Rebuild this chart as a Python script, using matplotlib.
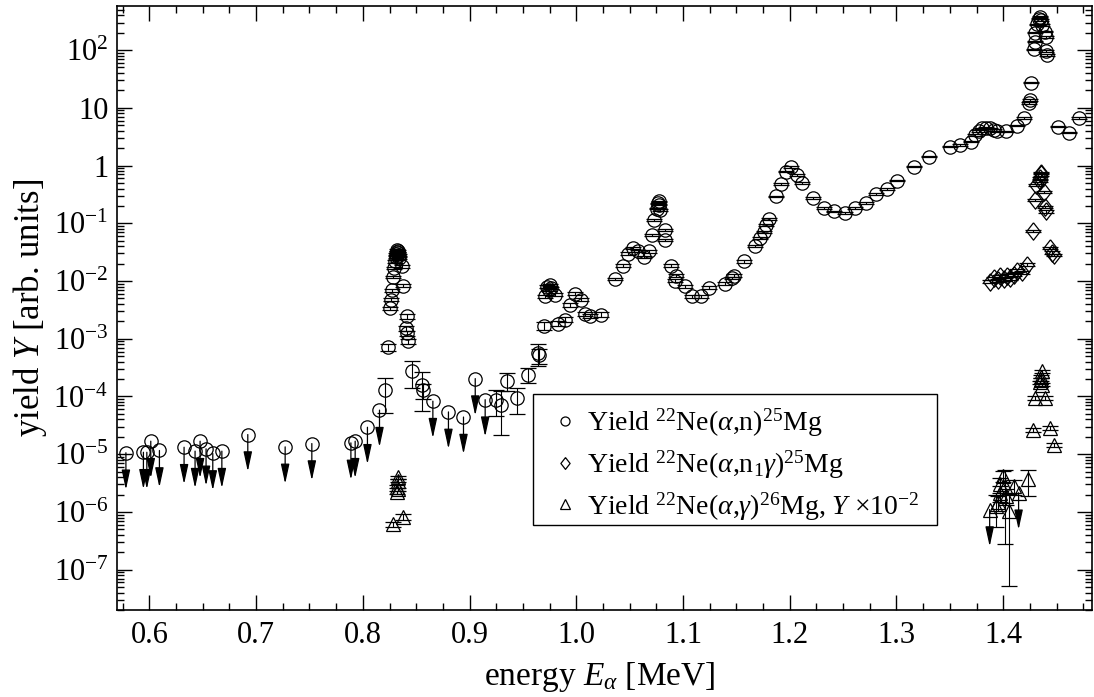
import matplotlib
matplotlib.use("Agg")
import matplotlib.pyplot as plt
from matplotlib.lines import Line2D
from matplotlib.patches import Rectangle
from matplotlib.ticker import FixedLocator, FuncFormatter, LogLocator, NullFormatter, MultipleLocator
import numpy as np

# ---------------- data ----------------
# 22Ne(a,n)25Mg : measured points (energy MeV, yield, relative error)
an_E = [0.8209, 0.8240, 0.8256, 0.8265, 0.8272, 0.8278, 0.8290, 0.8300, 0.8308, 0.8314,
        0.8318, 0.8322, 0.8326, 0.8330, 0.8335, 0.8340, 0.8365, 0.8375, 0.8405, 0.8410,
        0.8412, 0.8420, 0.8459, 0.8553, 0.8560, 0.9250, 0.9293, 0.9350, 0.9449, 0.9552,
        0.9640, 0.9650, 0.9693, 0.9709, 0.9730, 0.9740, 0.9750, 0.9760, 0.9800, 0.9833,
        0.9896, 0.9943, 0.9990, 1.0043, 1.0083, 1.0130, 1.0233, 1.0365, 1.0433, 1.0480,
        1.0530, 1.0574, 1.0630, 1.0677, 1.0708, 1.0730, 1.0755, 1.0765, 1.0772, 1.0778,
        1.0785, 1.0827, 1.0833, 1.0886, 1.0926, 1.0936, 1.1014, 1.1083, 1.1168, 1.1239,
        1.1389, 1.1458, 1.1473, 1.1573, 1.1677, 1.1723, 1.1754, 1.1780, 1.1801, 1.1871,
        1.1917, 1.1967, 1.2011, 1.2067, 1.2114, 1.2217, 1.2317, 1.2411, 1.2514, 1.2614,
        1.2717, 1.2811, 1.2911, 1.3005, 1.3160, 1.3305, 1.3504, 1.3598, 1.3700, 1.3738,
        1.3770, 1.3800, 1.3840, 1.3875, 1.3912, 1.3943, 1.4029, 1.4129, 1.4191, 1.4238,
        1.4247, 1.4263, 1.4285, 1.4294, 1.4300, 1.4320, 1.4335, 1.4345, 1.4355, 1.4365,
        1.4394, 1.4400, 1.4405, 1.4410, 1.4514, 1.4613, 1.4707]
an_Y = [1.3e-4, 7.1e-4, 3.4e-3, 4.7e-3, 6.9e-3, 0.0117, 0.0168, 0.022, 0.026, 0.029,
        0.032, 0.034, 0.031, 0.033, 0.028, 0.025, 0.0179, 8.3e-3, 1.54e-3, 1.26e-3,
        2.44e-3, 9.0e-4, 2.73e-4, 1.6e-4, 1.28e-4, 8.8e-5, 7.2e-5, 1.88e-4, 9.5e-5, 2.4e-4,
        5.7e-4, 5.2e-4, 1.69e-3, 5.4e-3, 8.0e-3, 7.1e-3, 8.5e-3, 7.5e-3, 5.8e-3, 1.82e-3,
        2.14e-3, 3.9e-3, 6.0e-3, 4.7e-3, 2.72e-3, 2.44e-3, 2.6e-3, 0.0108, 0.0184, 0.0297,
        0.0372, 0.0334, 0.026, 0.0325, 0.063, 0.115, 0.18, 0.22, 0.24, 0.21,
        0.17, 0.077, 0.052, 0.0184, 0.0102, 0.0124, 8.1e-3, 5.4e-3, 5.4e-3, 7.6e-3,
        8.9e-3, 0.0113, 0.0124, 0.0218, 0.0397, 0.0555, 0.072, 0.094, 0.118, 0.291,
        0.482, 0.788, 0.94, 0.69, 0.50, 0.273, 0.183, 0.16, 0.15, 0.183,
        0.224, 0.324, 0.391, 0.55, 0.96, 1.43, 2.13, 2.28, 2.6, 3.4,
        4.0, 4.4, 4.5, 4.4, 4.1, 3.9, 3.9, 4.9, 6.6, 12.0,
        13.7, 27.3, 103.0, 140.0, 200.0, 280.0, 350.0, 380.0, 330.0, 270.0,
        208.0, 167.0, 96.0, 82.0, 4.7, 3.7, 6.6]
an_err = [0.6, 0.12, 0.06, 0.06, 0.06, 0.05, 0.05, 0.05, 0.04, 0.04,
          0.04, 0.04, 0.04, 0.04, 0.04, 0.04, 0.05, 0.06, 0.1, 0.1,
          0.1, 0.1, 0.48, 0.65, 0.3, 0.48, 0.7, 0.35, 0.48, 0.28,
          0.4, 0.3, 0.15, 0.06, 0.05, 0.05, 0.05, 0.05, 0.06, 0.1,
          0.1, 0.08, 0.06, 0.06, 0.08, 0.08, 0.1, 0.05, 0.05, 0.05,
          0.05, 0.05, 0.05, 0.05, 0.04, 0.04, 0.03, 0.03, 0.03, 0.03,
          0.03, 0.04, 0.04, 0.05, 0.05, 0.05, 0.06, 0.06, 0.06, 0.06,
          0.06, 0.05, 0.05, 0.05, 0.04, 0.04, 0.04, 0.04, 0.04, 0.03,
          0.03, 0.03, 0.03, 0.03, 0.03, 0.03, 0.03, 0.03, 0.03, 0.03,
          0.03, 0.03, 0.03, 0.03, 0.03, 0.03, 0.03, 0.03, 0.03, 0.03,
          0.03, 0.03, 0.03, 0.03, 0.03, 0.03, 0.03, 0.03, 0.03, 0.03,
          0.03, 0.03, 0.03, 0.03, 0.03, 0.03, 0.03, 0.03, 0.03, 0.03,
          0.03, 0.03, 0.03, 0.03, 0.03, 0.03, 0.03]

# 22Ne(a,n)25Mg : upper limits
an_ul_E = [0.578, 0.5944, 0.5976, 0.6013, 0.6094, 0.6325, 0.6428, 0.6475, 0.6531, 0.6594,
           0.6679, 0.6922, 0.7272, 0.7522, 0.7888, 0.7928, 0.8043, 0.8156, 0.8656, 0.8802,
           0.8943, 0.9053, 0.9146]
an_ul_Y = [1.06e-5, 1.08e-5, 1.08e-5, 1.68e-5, 1.16e-5, 1.32e-5, 1.13e-5, 1.68e-5, 1.24e-5, 1.03e-5,
           1.13e-5, 2.19e-5, 1.34e-5, 1.53e-5, 1.57e-5, 1.68e-5, 2.93e-5, 5.8e-5, 8.3e-5, 5.4e-5,
           4.4e-5, 2.04e-4, 8.8e-5]

# 22Ne(a,n1 gamma)25Mg
ang_E = [1.3873, 1.3912, 1.3950, 1.3973, 1.4004, 1.4036, 1.4067, 1.4105, 1.4129, 1.4175,
         1.4222, 1.4279, 1.4294, 1.4310, 1.4340, 1.4345, 1.4350, 1.4355, 1.4379, 1.4394,
         1.4400, 1.4441, 1.4460, 1.4479]
ang_Y = [0.0098, 0.0112, 0.0103, 0.012, 0.0108, 0.0124, 0.0112, 0.0128, 0.0152, 0.0141,
         0.0191, 0.074, 0.255, 0.46, 0.53, 0.62, 0.70, 0.75, 0.355, 0.195,
         0.16, 0.037, 0.031, 0.0285]
ang_err = [0.06, 0.06, 0.06, 0.06, 0.06, 0.06, 0.06, 0.06, 0.06, 0.06,
           0.06, 0.05, 0.04, 0.04, 0.04, 0.04, 0.04, 0.04, 0.04, 0.04,
           0.04, 0.05, 0.05, 0.05]

# 22Ne(a,gamma)26Mg, scaled by 1e-2
ag_E = [0.8278, 0.8318, 0.8322, 0.8326, 0.8330, 0.8334, 0.8380,
        1.3928, 1.3950, 1.3967, 1.3973, 1.3998, 1.4020, 1.4030, 1.4050, 1.4097, 1.4229,
        1.4279, 1.4300, 1.4345, 1.4350, 1.4355, 1.4360, 1.4365, 1.4394, 1.4441, 1.4479]
ag_Y = [6.1e-7, 2.2e-6, 2.75e-6, 3.95e-6, 3.5e-6, 2.45e-6, 8.1e-7,
        1.26e-6, 1.47e-6, 2.15e-6, 3.0e-6, 4.2e-6, 2.8e-6, 1.9e-6, 1.03e-6, 2.8e-6, 3.65e-6,
        2.67e-5, 9.5e-5, 1.75e-4, 1.96e-4, 2.2e-4, 1.6e-4, 2.73e-4, 9.5e-5, 2.86e-5, 1.47e-5]
ag_err = [0.1, 0.06, 0.06, 0.06, 0.06, 0.06, 0.12,
          0.56, 0.3, 0.3, 0.3, 0.2, 0.9, 0.3, 0.95, 0.3, 0.48,
          0.08, 0.08, 0.06, 0.06, 0.06, 0.06, 0.06, 0.08, 0.08, 0.08]
ag_ul_E = [1.3873, 1.4144]
ag_ul_Y = [1.1e-6, 2.15e-6]

legend_labels = [r"Yield $^{22}$Ne($\alpha$,n)$^{25}$Mg",
                 r"Yield $^{22}$Ne($\alpha$,n$_1\gamma$)$^{25}$Mg",
                 r"Yield $^{22}$Ne($\alpha$,$\gamma$)$^{26}$Mg, $Y$ ×10$^{-2}$"]

# ---------------- style ----------------
plt.rcParams["font.family"] = ["Liberation Serif", "DejaVu Serif"]
plt.rcParams["mathtext.fontset"] = "custom"
plt.rcParams["mathtext.rm"] = "Liberation Serif"
plt.rcParams["mathtext.it"] = "Liberation Serif:italic"
plt.rcParams["mathtext.bf"] = "Liberation Serif:bold"
plt.rcParams["mathtext.fallback"] = "stix"

fig = plt.figure(figsize=(10.94, 6.97), dpi=100)
ax = fig.add_axes([0.1067, 0.1248, 0.8912, 0.8666])

ms_c = 9.6
ms_t = 9.6
ekw = dict(ecolor="black", elinewidth=0.8, capsize=5.5, capthick=0.9, linestyle="none")


def draw_series(E, Y, err, marker, ms):
    E = np.asarray(E)
    Y = np.asarray(Y)
    dY = np.asarray(err) * Y
    ax.errorbar(E, Y, yerr=dY, marker=marker, ms=ms, mfc="none", mec="black",
                mew=0.9, **ekw)


def draw_limits(E, Y, marker, ms):
    ax.plot(E, Y, linestyle="none", marker=marker, ms=ms, mfc="none", mec="black", mew=0.9)
    for e, y in zip(E, Y):
        ax.annotate("", xy=(e, y * 10 ** -0.64), xytext=(e, y),
                    arrowprops=dict(arrowstyle="-|>,head_length=1.2,head_width=0.26",
                                    color="black", lw=0.9, shrinkA=0, shrinkB=0,
                                    mutation_scale=10))


diamond = [(0, 1), (0.78, 0), (0, -1), (-0.78, 0), (0, 1)]

draw_series(an_E, an_Y, an_err, "o", ms_c)
draw_limits(an_ul_E, an_ul_Y, "o", ms_c)
draw_series(ang_E, ang_Y, ang_err, diamond, 12.5)
draw_series(ag_E, ag_Y, ag_err, "^", ms_t)
draw_limits(ag_ul_E, ag_ul_Y, "^", ms_t)

ax.set_yscale("log")
ax.set_xlim(0.5694, 1.4829)
ax.set_ylim(2.0e-8, 580)

ax.xaxis.set_major_locator(MultipleLocator(0.1))
ax.xaxis.set_minor_locator(MultipleLocator(0.025))
ax.xaxis.set_major_formatter(FuncFormatter(lambda v, p: f"{v:.1f}"))

decades = [10.0 ** k for k in range(-7, 3)]
ax.yaxis.set_major_locator(FixedLocator(decades))


def yfmt(v, p):
    k = int(round(np.log10(v)))
    if k == 0:
        return "1"
    if k == 1:
        return "10"
    return r"10$^{%d}$" % k


ax.yaxis.set_major_formatter(FuncFormatter(yfmt))
ax.yaxis.set_minor_locator(LogLocator(base=10, subs=np.arange(2, 10), numticks=50))
ax.yaxis.set_minor_formatter(NullFormatter())

ax.tick_params(which="both", direction="in", top=True, right=True, width=1.0)
ax.tick_params(which="major", length=10.5)
ax.tick_params(which="minor", length=5)
ax.tick_params(axis="x", which="major", labelsize=22, pad=8)
ax.tick_params(axis="y", which="major", labelsize=22, pad=6)
for s in ax.spines.values():
    s.set_linewidth(1.2)

ax.set_xlabel(r"energy $E_\alpha$ [MeV]", fontsize=24)
ax.xaxis.set_label_coords(0.495, -0.111)
ax.xaxis.label.set_va("center")
ax.set_ylabel(r"yield $Y$ [arb. units]", fontsize=25)
ax.yaxis.set_label_coords(-0.089, 0.5)
ax.yaxis.label.set_va("center")

# legend frame drawn as a plain rectangle, entries placed inside it
ax.add_patch(Rectangle((0.427, 0.1407), 0.4143, 0.2169, transform=ax.transAxes,
                       facecolor="white", edgecolor="black", linewidth=1.0, zorder=4))
handles = [Line2D([], [], linestyle="none", marker="o", ms=6.5, mfc="none", mec="black", mew=0.9),
           Line2D([], [], linestyle="none", marker=diamond, ms=8.5, mfc="none", mec="black", mew=0.9),
           Line2D([], [], linestyle="none", marker="^", ms=6.5, mfc="none", mec="black", mew=0.9)]
leg = ax.legend(handles, legend_labels, loc="center left", bbox_to_anchor=(0.4455, 0.2406),
                borderaxespad=0, borderpad=0, fontsize=20, frameon=False,
                handlelength=1.0, handletextpad=0.29, labelspacing=0.33)
leg.set_zorder(5)

fig.savefig("out.png", dpi=100)
